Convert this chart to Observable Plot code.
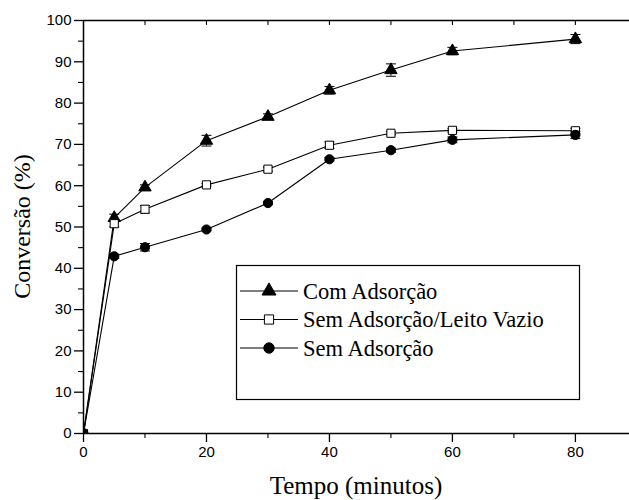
<!DOCTYPE html>
<html><head><meta charset="utf-8">
<script src="https://cdn.jsdelivr.net/npm/d3@7"></script>
<script src="https://cdn.jsdelivr.net/npm/@observablehq/plot@0.6"></script>
<style>
body{margin:0;background:#fff;}
#chart{position:relative;width:629px;height:500px;overflow:hidden;}
#legend{position:absolute;left:0;top:0;pointer-events:none;}
</style></head><body><div id="chart"></div>
<script>
// ---- data ----
const tempo = [0, 5, 10, 20, 30, 40, 50, 60, 80];
const seriesNames = ["Com Adsorção", "Sem Adsorção/Leito Vazio", "Sem Adsorção"];
const comAds        = [0, 52.2, 59.6, 70.9, 76.7, 83.1, 88.0, 92.6, 95.5];
const comAdsErr     = [0, 0.9, 0.6, 1.3, 0.7, 0.9, 1.5, 0.9, 1.1];
const semAdsLeito   = [0, 50.8, 54.3, 60.2, 64.0, 69.8, 72.7, 73.4, 73.3];
const semAdsLeitoErr= [0, 0.8, 0.9, 0.3, 0.5, 0.8, 0.4, 0.4, 0.6];
const semAds        = [0, 42.9, 45.1, 49.4, 55.8, 66.4, 68.6, 71.1, 72.3];
const semAdsErr     = [0, 0.5, 0.9, 0.3, 0.3, 0.4, 0.5, 0.7, 0.9];
const xMajorTicks = [0, 20, 40, 60, 80];
const xMinorTicks = [10, 30, 50, 70];
const xTopTicks   = [10, 20, 30, 40, 50, 60, 70, 80];
const yMajorTicks = [0, 10, 20, 30, 40, 50, 60, 70, 80, 90, 100];
const yMinorTicks = [5, 15, 25, 35, 45, 55, 65, 75, 85, 95];
const xDomain = [0, 88.8];
const yDomain = [0, 100];
const xLabel = "Tempo (minutos)";
const yLabel = "Conversão (%)";

const values = [comAds, semAdsLeito, semAds];
const errs = [comAdsErr, semAdsLeitoErr, semAdsErr];
const rows = seriesNames.flatMap((s, i) => tempo.map((t, j) => ({serie: s, t, v: values[i][j], e: errs[i][j]})));
const errRows = rows.filter(d => d.e > 0);

// ---- styles ----
const symbols = {
  "Com Adsorção": {symbol: "triangle", fill: "black", r: 4.6},
  "Sem Adsorção/Leito Vazio": {symbol: "square", fill: "white", r: 4.6},
  "Sem Adsorção": {symbol: "circle", fill: "black", r: 4.6}
};
const capSymbol = {draw(ctx) { ctx.moveTo(-5, 0); ctx.lineTo(5, 0); }};
const tickShape = {draw(ctx, l) { ctx.moveTo(0, 0); ctx.lineTo(0, -l); }};
const serif = "'Times New Roman', Times, 'Liberation Serif', Tinos, serif";
const sans = "Arial, Helvetica, 'Liberation Sans', Arimo, sans-serif";

const marks = [];
for (const s of seriesNames) {
  const data = rows.filter(d => d.serie === s);
  const st = symbols[s];
  marks.push(Plot.line(data, {x: "t", y: "v", stroke: "black", strokeWidth: 1.1}));
  const ed = errRows.filter(d => d.serie === s);
  marks.push(Plot.ruleX(ed, {x: "t", y1: d => d.v - d.e, y2: d => d.v + d.e, stroke: "black", strokeWidth: 1}));
  marks.push(Plot.dot(ed, {x: "t", y: d => d.v - d.e, symbol: capSymbol, stroke: "black", strokeWidth: 1}));
  marks.push(Plot.dot(ed, {x: "t", y: d => d.v + d.e, symbol: capSymbol, stroke: "black", strokeWidth: 1}));
  marks.push(Plot.dot(data, {x: "t", y: "v", symbol: st.symbol, r: st.r, fill: st.fill, stroke: "black", strokeWidth: 1, clip: true}));
}

const W = 629, H = 500, mL = 83, mT = 20, mB = 67, mR = 0;
const chart = Plot.plot({
  width: W, height: H,
  marginLeft: mL, marginTop: mT, marginBottom: mB, marginRight: mR,
  style: {fontFamily: sans, fontSize: "15px", color: "black", background: "white", overflow: "visible"},
  x: {domain: xDomain},
  y: {domain: yDomain},
  marks: [
    ...marks,
    Plot.ruleY([yDomain[1]], {stroke: "black", strokeWidth: 1.5}),
    Plot.ruleY([yDomain[0]], {stroke: "black", strokeWidth: 1.5}),
    Plot.ruleX([xDomain[0]], {stroke: "black", strokeWidth: 1.5}),
    Plot.axisX(xMajorTicks, {anchor: "bottom", tickSize: 9, tickPadding: 4, strokeWidth: 1.3, label: null, fontSize: 15, fontFamily: sans}),
    Plot.axisX(xMinorTicks, {anchor: "bottom", tickSize: 5, tickFormat: () => "", strokeWidth: 1.1, label: null}),
    Plot.vector(xTopTicks, {x: d => d, frameAnchor: "top", length: 4, rotate: 180, anchor: "start", shape: tickShape, stroke: "black", strokeWidth: 1.1}),
    Plot.axisY(yMajorTicks, {anchor: "left", tickSize: 9, tickPadding: 3, strokeWidth: 1.3, label: null, fontSize: 15, fontFamily: sans}),
    Plot.axisY(yMinorTicks, {anchor: "left", tickSize: 5, tickFormat: () => "", strokeWidth: 1.1, label: null})
  ]
});
const container = document.getElementById("chart");
container.appendChild(chart);

// ---- axis titles and legend overlay ----
const lg = d3.select(container).append("svg").attr("id", "legend").attr("width", W).attr("height", H);
const frameMidX = (mL + W - mR) / 2, frameMidY = (mT + H - mB) / 2;
lg.append("text").attr("x", frameMidX).attr("y", 485).attr("dy", "0.35em").attr("text-anchor", "middle")
  .style("font-family", serif).style("font-size", "25px").attr("fill", "black").text(xLabel);
lg.append("text").attr("transform", `translate(22,${frameMidY}) rotate(-90)`).attr("dy", "0.35em").attr("text-anchor", "middle")
  .style("font-family", serif).style("font-size", "24px").attr("fill", "black").text(yLabel);

lg.append("rect").attr("x", 236.5).attr("y", 265.5).attr("width", 343).attr("height", 134)
  .attr("fill", "white").attr("stroke", "black").attr("stroke-width", 1.2);
const symMap = {triangle: d3.symbolTriangle, square: d3.symbolSquare, circle: d3.symbolCircle};
seriesNames.forEach((s, i) => {
  const y = 291 + i * 28.5;
  const st = symbols[s];
  lg.append("line").attr("x1", 240).attr("x2", 298).attr("y1", y).attr("y2", y).attr("stroke", "black").attr("stroke-width", 1.1);
  lg.append("path").attr("transform", `translate(269,${y})`)
    .attr("d", d3.symbol(symMap[st.symbol], Math.PI * (st.r + 0.6) ** 2)())
    .attr("fill", st.fill).attr("stroke", "black").attr("stroke-width", 1);
  lg.append("text").attr("x", 303).attr("y", y).attr("dy", "0.35em")
    .style("font-family", serif).style("font-size", "22.5px").attr("fill", "black").text(s);
});
</script>
</body></html>
